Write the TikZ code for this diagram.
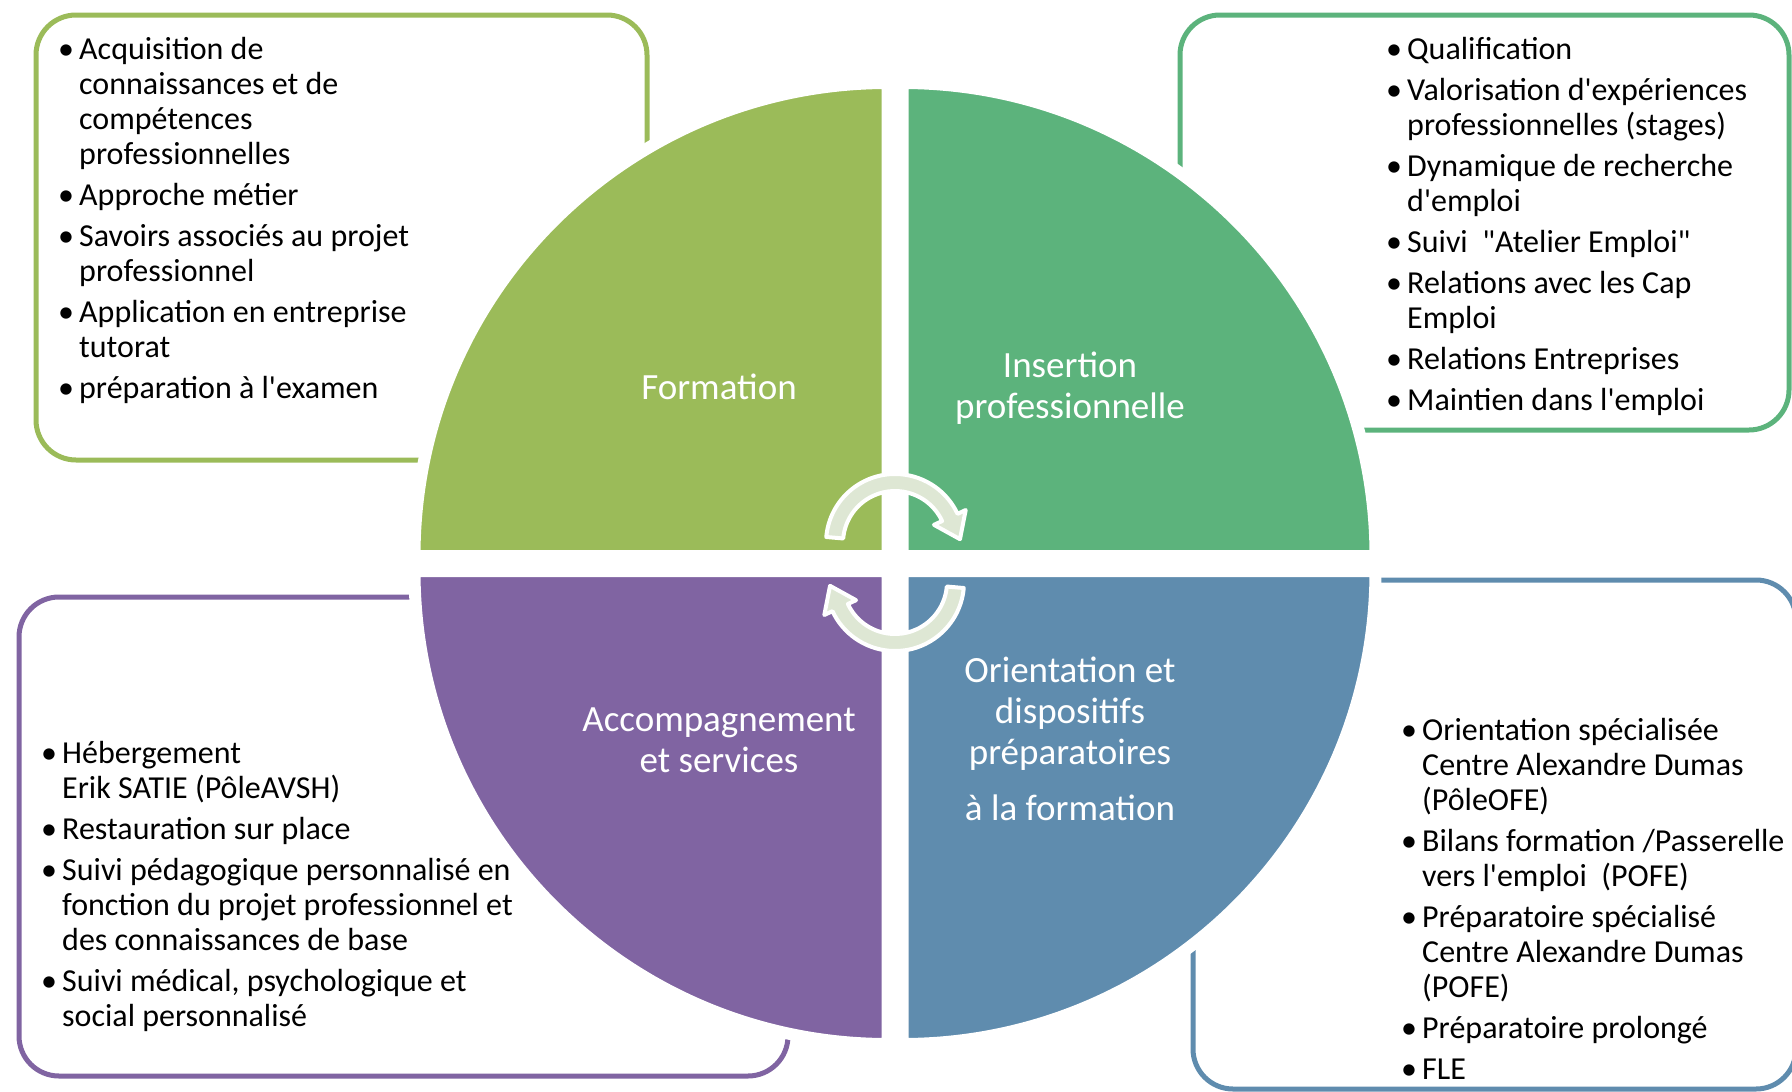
\documentclass[tikz,border=0pt]{standalone}
\usepackage{fontspec}
\setmainfont{Carlito}[Ligatures=TeXOff]
\usepackage{xcolor}
\usepackage{tikz}

\definecolor{vertform}{HTML}{9BBB59}
\definecolor{vertins}{HTML}{5CB37C}
\definecolor{violacc}{HTML}{8064A2}
\definecolor{bleuori}{HTML}{5F8CAE}
\definecolor{fondfleche}{HTML}{DEE7D4}

\newcommand{\puce}{\makebox[21pt][l]{\textbullet}}
\newcommand{\suite}{\hspace*{21pt}}

\begin{document}
\begin{tikzpicture}[x=1pt, y=-1pt,
    cadre/.style={draw=#1, line width=5pt, rounded corners=40pt},
    quart/.style={fill=#1, draw=white, line width=12pt},
    titre/.style={text=white, font=\fontsize{37}{41}\selectfont, align=center, inner sep=0pt},
    liste/.style={anchor=north west, inner sep=0pt, align=left, font=\fontsize{32}{35}\selectfont},
    fleche/.style={fill=fondfleche, draw=white, line width=4pt, line join=round}]

    \clip (0,0) rectangle (1792,1092);

    % cadres
    \draw[cadre=vertform] (36,15) rectangle (647,460);
    \draw[cadre=vertins] (1180,15) rectangle (1789,430);
    \draw[cadre=violacc] (19,597) rectangle (788,1076);
    \draw[cadre=bleuori] (1193,580) rectangle (1796,1089);

    % quarts de disque
    \path[quart=vertform] (887.5,556) -- ++(-473,0) arc[start angle=180, end angle=270, radius=473] -- cycle;
    \path[quart=vertins] (902.5,556) -- ++(0,-473) arc[start angle=270, end angle=360, radius=473] -- cycle;
    \path[quart=bleuori] (902.5,571) -- ++(473,0) arc[start angle=0, end angle=90, radius=473] -- cycle;
    \path[quart=violacc] (887.5,571) -- ++(0,473) arc[start angle=90, end angle=180, radius=473] -- cycle;

    \node[titre] (formation) at (719,387) {Formation};
    \node[titre] (insertion) at (1070,388) {Insertion\\professionnelle};
    \node[titre] (accomp) at (719,740) {Accompagnement\\et services};
    \node[titre] (orientation) at (1070,739) {Orientation et\\dispositifs\\préparatoires\\[15pt]à la formation};

    % fleches circulaires
    \coordinate (ch) at (895,543);
    \coordinate (cb) at (895,582);
    \draw[fleche] ([shift={(185:69)}]ch) arc[start angle=185, end angle=335, radius=69]
        -- ([shift={(335:78)}]ch) -- ([shift={(335:60.5)}, shift={(65:24)}]ch) -- ([shift={(335:43)}]ch)
        -- ([shift={(335:52)}]ch) arc[start angle=335, end angle=185, radius=52] -- cycle;
    \draw[fleche] ([shift={(5:69)}]cb) arc[start angle=5, end angle=155, radius=69]
        -- ([shift={(155:78)}]cb) -- ([shift={(155:60.5)}, shift={(245:24)}]cb) -- ([shift={(155:43)}]cb)
        -- ([shift={(155:52)}]cb) arc[start angle=155, end angle=5, radius=52] -- cycle;

    % listes
    \node[liste] (listeform) at (58,34.5) {\strut\puce Acquisition de\\
        \suite connaissances et de\\
        \suite compétences\\
        \suite professionnelles\\[6pt]
        \puce Approche métier\\[6pt]
        \puce Savoirs associés au projet\\
        \suite professionnel\\[6pt]
        \puce Application en entreprise\\
        \suite tutorat\\[6pt]
        \puce préparation à l'examen};
    \node[liste] (listeins) at (1386,34.5) {\strut\puce Qualification\\[6pt]
        \puce Valorisation d'expériences\\
        \suite professionnelles (stages)\\[6pt]
        \puce Dynamique de recherche\\
        \suite d'emploi\\[6pt]
        \puce Suivi\ \ "Atelier Emploi"\\[6pt]
        \puce Relations avec les Cap\\
        \suite Emploi\\[6pt]
        \puce Relations Entreprises\\[6pt]
        \puce Maintien dans l'emploi};
    \node[liste] (listeacc) at (41,738.5) {\strut\puce Hébergement\\
        \suite Erik SATIE (PôleAVSH)\\[6pt]
        \puce Restauration sur place\\[6pt]
        \puce Suivi pédagogique personnalisé en\\
        \suite fonction du projet professionnel et\\
        \suite des connaissances de base\\[6pt]
        \puce Suivi médical, psychologique et\\
        \suite social personnalisé};
    \node[liste] (listeori) at (1401,715.5) {\strut\puce Orientation spécialisée\\
        \suite Centre Alexandre Dumas\\
        \suite (PôleOFE)\\[6pt]
        \puce Bilans formation /Passerelle\\
        \suite vers l'emploi\ \ (POFE)\\[6pt]
        \puce Préparatoire spécialisé\\
        \suite Centre Alexandre Dumas\\
        \suite (POFE)\\[6pt]
        \puce Préparatoire prolongé\\[6pt]
        \puce FLE};
\end{tikzpicture}
\end{document}
